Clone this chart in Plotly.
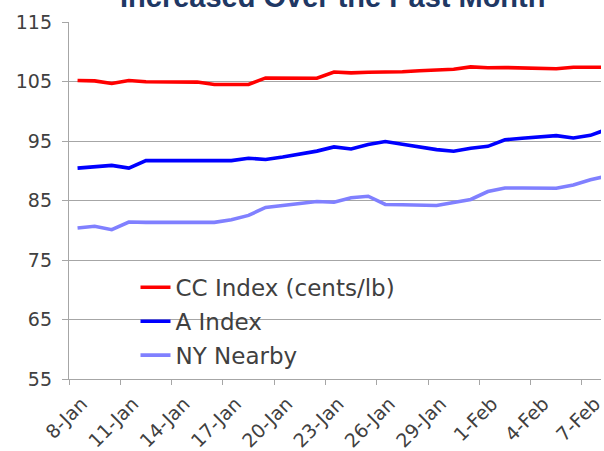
import plotly.graph_objects as go
import pandas as pd

# ---- data ----
start_date = "2024-01-08"
n_days = 32
cc_index = [105.17, 105.10, 104.67, 105.17, 104.95, 104.95, 104.95, 104.90, 104.50, 104.55,
            104.50, 105.60, 105.60, 105.60, 105.55, 106.60, 106.45, 106.55, 106.55, 106.65,
            106.80, 106.90, 107.05, 107.45, 107.30, 107.35, 107.30, 107.25, 107.15, 107.40,
            107.45, 107.40]
a_index = [90.44, 90.66, 90.90, 90.44, 91.70, 91.70, 91.70, 91.70, 91.70, 91.70,
           92.10, 91.90, 92.30, 92.80, 93.30, 94.00, 93.66, 94.40, 94.90, 94.45,
           94.00, 93.55, 93.27, 93.78, 94.10, 95.20, 95.45, 95.67, 95.90, 95.50,
           95.95, 97.00]
ny_nearby = [80.38, 80.66, 80.10, 81.38, 81.33, 81.33, 81.33, 81.33, 81.33, 81.77,
             82.50, 83.83, 84.17, 84.50, 84.83, 84.70, 85.45, 85.72, 84.33, 84.28,
             84.22, 84.17, 84.67, 85.17, 86.50, 87.11, 87.11, 87.11, 87.06, 87.60,
             88.50, 89.15]
series_names = ["CC Index (cents/lb)", "A Index", "NY Nearby"]
tick_start = "2024-01-08"
tick_end = "2024-02-07"
title_text = "Increased Over the Past Month"

# ---- derived ----
dates = pd.date_range(start_date, periods=n_days, freq="D") + pd.Timedelta(hours=12)
tick_dates = pd.date_range(tick_start, tick_end, freq="3D")
tick_labels = [f"{d.day}-{d.strftime('%b')}" for d in tick_dates]
label_dates = tick_dates + pd.Timedelta(hours=18)

x_range = [pd.Timestamp("2024-01-08"), pd.Timestamp("2024-02-08 02:50")]

GRID = "#A6A6A6"
TXT = "#404040"
FONT = "DejaVu Sans"

fig = go.Figure()
fig.add_trace(go.Scatter(x=dates, y=cc_index, mode="lines", name=series_names[0],
                         line=dict(color="#FF0000", width=3.6), legendgroup="g1"))
fig.add_trace(go.Scatter(x=dates, y=a_index, mode="lines", name=series_names[1],
                         line=dict(color="#0000FF", width=3.6), legendgroup="g2"))
fig.add_trace(go.Scatter(x=dates, y=ny_nearby, mode="lines", name=series_names[2],
                         line=dict(color="#8080FF", width=3.6), legendgroup="g3",
                         xaxis="x2"))

fig.update_layout(
    width=604, height=451,
    margin=dict(l=69, r=0, t=22, b=69),
    paper_bgcolor="white", plot_bgcolor="white",
    font=dict(family=FONT, color=TXT),
    xaxis=dict(type="date", range=x_range, tickvals=tick_dates, showticklabels=False,
               ticks="outside", ticklen=5, tickcolor=GRID, tickwidth=1.3,
               showline=True, linecolor=GRID, linewidth=1.3, showgrid=False,
               zeroline=False),
    xaxis2=dict(type="date", range=x_range, overlaying="x", anchor="y", side="bottom",
                tickvals=label_dates, ticktext=tick_labels, tickangle=-45,
                ticks="", showline=False, showgrid=False, zeroline=False,
                ticklabeloverflow="allow", ticklabelstandoff=9,
                tickfont=dict(family=FONT, size=19, color=TXT)),
    yaxis=dict(range=[55, 115], tick0=55, dtick=10, showgrid=True, gridcolor=GRID,
               gridwidth=1.3, showline=True, linecolor=GRID, linewidth=1.3,
               ticks="outside", ticklen=6, tickcolor=GRID, tickwidth=1.3,
               zeroline=False, tickfont=dict(family=FONT, size=19, color=TXT),
               ticklabelstandoff=6),
    legend=dict(x=0.125, y=0.317, xanchor="left", yanchor="top",
                bgcolor="rgba(0,0,0,0)", font=dict(family=FONT, size=23, color=TXT),
                traceorder="grouped", tracegroupgap=1, itemwidth=30),
    showlegend=True,
    shapes=[dict(type="rect", xref="paper", yref="paper", x0=0.015, x1=0.69,
                 y0=0.02, y1=0.324, fillcolor="white", line=dict(width=0),
                 layer="between")],
    annotations=[dict(text=f"<b>{title_text}</b>", xref="paper", yref="paper",
                      x=0.495, y=1.0, xanchor="center", yanchor="bottom", yshift=7,
                      showarrow=False,
                      font=dict(family="Liberation Sans", size=29, color="#1F3864"))],
)

fig.write_html("out.html", config={"displayModeBar": False},
               post_script="document.body.style.margin='0';")
